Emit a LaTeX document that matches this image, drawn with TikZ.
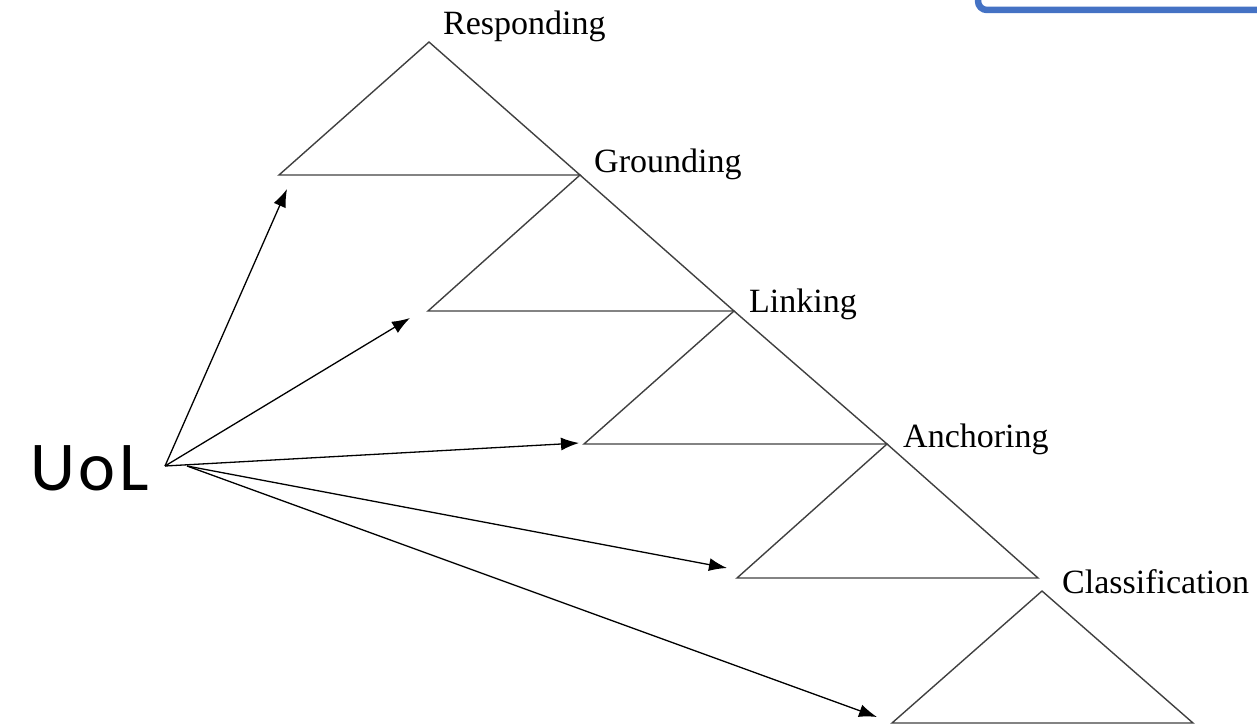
\documentclass[tikz,border=0pt]{standalone}
\usepackage{fontspec}
\setmainfont{Liberation Serif}
\newfontfamily\uolfont[LetterSpace=5]{Carlito}
\usetikzlibrary{arrows.meta}
\definecolor{boxblue}{HTML}{4472C4}
\definecolor{edgegray}{HTML}{404040}
\begin{document}
\begin{tikzpicture}[x=1pt,y=-1pt,
  tri/.style={draw=edgegray, line width=1.4pt, line join=miter},
  lvl/.style={font=\fontsize{34}{40}\selectfont, anchor=base west, inner sep=0pt},
  link/.style={draw=black, line width=1.3pt, -{Latex[length=18pt,width=13pt]}}]
\useasboundingbox (0,0) rectangle (1257,725);

% blue frame running off the top-right corner
\begin{scope}
  \clip (0,0) rectangle (1257,725);
  \draw[boxblue, line width=6.5pt, rounded corners=9pt] (978,-40) rectangle (1300,10);
\end{scope}

% cascade of levels
\draw[tri] (279,175) -- (429,42)  -- (580,175) -- cycle;
\draw[tri] (428,311) -- (580,175) -- (734,311) -- cycle;
\draw[tri] (584,444) -- (734,311) -- (887,444) -- cycle;
\draw[tri] (737,578) -- (887,444) -- (1038,578) -- cycle;
\draw[tri] (892,723) -- (1042,591) -- (1193,723) -- cycle;

% level labels
\node[lvl] (resp)  at (443,35)  {Responding};
\node[lvl] (grnd)  at (594,172) {Grounding};
\node[lvl] (link)  at (749,312) {Linking};
\node[lvl] (anch)  at (903,447) {Anchoring};
\node[lvl] (class) at (1062,593) {Classification};

% source
\node[font=\uolfont\fontsize{70}{80}\selectfont, anchor=base west, inner sep=0pt] (uol) at (30,490) {UoL};
\coordinate (s1) at (165,466);
\coordinate (s2) at (187,466);

\coordinate (t1) at (287,189);
\coordinate (t2) at (410,318);
\coordinate (t3) at (579,443);
\coordinate (t4) at (727,568);
\coordinate (t5) at (877,717);

\draw[link] (s1) -- (t1);
\draw[link] (s1) -- (t2);
\draw[link] (s1) -- (t3);
\draw[link] (s2) -- (t4);
\draw[link] (s2) -- (t5);
\end{tikzpicture}
\end{document}
